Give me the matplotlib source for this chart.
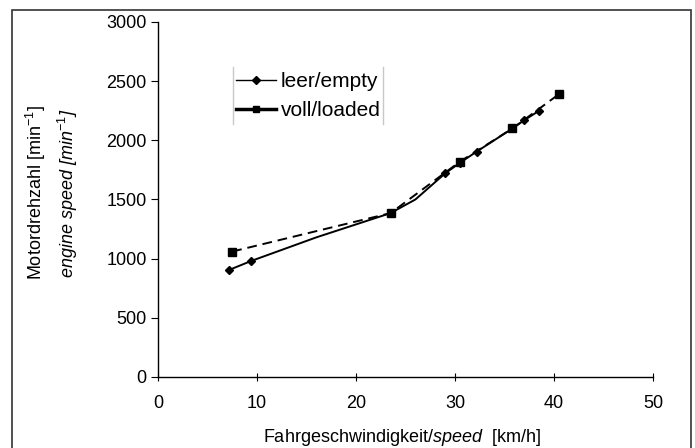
import matplotlib
matplotlib.use("Agg")
import matplotlib.pyplot as plt
from matplotlib.lines import Line2D
from matplotlib.patches import Rectangle

plt.rcParams["font.family"] = ["Liberation Sans", "DejaVu Sans"]
plt.rcParams["mathtext.fontset"] = "custom"
plt.rcParams["mathtext.rm"] = "Liberation Sans"
plt.rcParams["mathtext.it"] = "Liberation Sans:italic"

# ── Data ─────────────────────────────────────────────────────────────────────
empty_speed = [7.2, 9.4, 16.0, 23.5, 26.0, 29.0, 30.5, 32.2, 35.8, 37.0, 38.5]
empty_rpm   = [905, 980, 1180, 1385, 1500, 1720, 1810, 1905, 2100, 2170, 2250]
empty_marks = [0, 1, 3, 5, 6, 7, 8, 9, 10]   # points drawn with a marker

loaded_speed = [7.5, 23.5, 30.5, 35.8, 40.5]
loaded_rpm   = [1060, 1385, 1820, 2100, 2390]

xticks = [0, 10, 20, 30, 40, 50]
yticks = [0, 500, 1000, 1500, 2000, 2500, 3000]

# ── Layout ───────────────────────────────────────────────────────────────────
fig = plt.figure(figsize=(6.95, 4.48), dpi=100, facecolor="white")
ax = fig.add_axes([0.2273, 0.1585, 0.7123, 0.7925])

# outer frame around the whole figure
fig.patches.append(Rectangle((12 / 695, -0.02), 679 / 695, 1.0 - 10 / 448 + 0.02,
                             transform=fig.transFigure, fill=False,
                             edgecolor="#333333", linewidth=1.2))

ax.plot(loaded_speed, loaded_rpm, color="black", linestyle=(0, (5, 3)),
        linewidth=1.4, marker="s", markersize=6, zorder=3)
ax.plot(empty_speed, empty_rpm, color="black", linewidth=1.4, zorder=4)
ax.plot([empty_speed[i] for i in empty_marks], [empty_rpm[i] for i in empty_marks],
        linestyle="none", marker="D", markersize=4, color="black", zorder=5)

ax.set_xlim(0, 50)
ax.set_ylim(0, 3000)
ax.set_xticks(xticks)
ax.set_yticks(yticks)
ax.spines["top"].set_visible(False)
ax.spines["right"].set_visible(False)
for s in ("left", "bottom"):
    ax.spines[s].set_linewidth(1.0)
ax.tick_params(axis="y", direction="out", length=5, labelsize=13, pad=3)
ax.tick_params(axis="x", direction="inout", length=6, labelsize=13, pad=10)

# axis labels
fig.text(402 / 695, 1 - 437 / 448, r"Fahrgeschwindigkeit/$\it{speed}$  [km/h]",
         ha="center", va="center", fontsize=13)
fig.text(36 / 695, 1 - 193 / 448, r"Motordrehzahl [min$^{-1}$]",
         ha="center", va="center", rotation=90, fontsize=13)
fig.text(68 / 695, 1 - 193 / 448, r"engine speed [min$^{-1}$]", style="italic",
         ha="center", va="center", rotation=90, fontsize=13)

# legend
handles = [
    Line2D([], [], color="black", linewidth=1.0, marker="D", markersize=4),
    Line2D([], [], color="black", linewidth=2.5, marker="s", markersize=5),
]
leg = ax.legend(handles, ["leer/empty", "voll/loaded"], loc="upper left",
                bbox_to_anchor=((234 - 158) / 495, 1 - (70 - 22) / 355),
                frameon=False, fontsize=15, handlelength=1.9,
                handletextpad=0.25, borderpad=0.1, borderaxespad=0,
                labelspacing=0.5)
for xp in (233, 383):
    fig.add_artist(Line2D([xp / 695, xp / 695], [1 - 67 / 448, 1 - 124 / 448],
                          color="#c8c8c8", linewidth=1.0))

plt.savefig("out.png", dpi=100, facecolor="white")
